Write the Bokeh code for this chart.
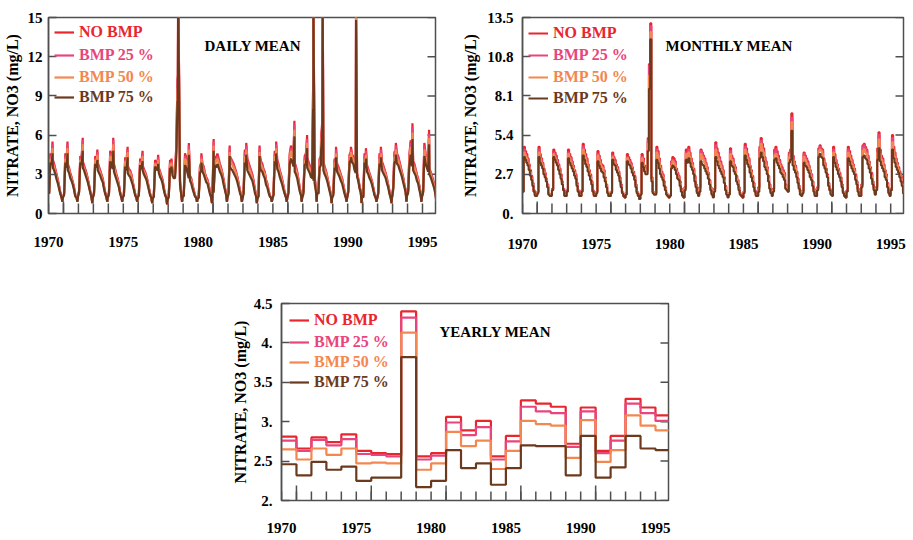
import numpy as np
from bokeh.plotting import figure
from bokeh.models import LinearAxis, FixedTicker, Range1d, Legend, LegendItem, Label, Spacer
from bokeh.layouts import row, column
from bokeh.core.properties import value
from bokeh.embed import file_html
from bokeh.resources import INLINE

# ---------------- data ----------------
years = list(range(1970, 1996))
series_names = ["NO BMP", "BMP 25 %", "BMP 50 %", "BMP 75 %"]
series_colors = ["#e8262e", "#e8457c", "#f3874f", "#6b3a1e"]

x_label_years = [1970, 1975, 1980, 1985, 1990, 1995]
x_long_ticks = [1971, 1976, 1981, 1986, 1991]

daily_yticks = [0, 3, 6, 9, 12, 15]
daily_ylabels = ["0", "3", "6", "9", "12", "15"]
monthly_yticks = [0, 2.7, 5.4, 8.1, 10.8, 13.5]
monthly_ylabels = ["0.", "2.7", "5.4", "8.1", "10.8", "13.5"]
yearly_yticks = [2, 2.5, 3, 3.5, 4, 4.5]
yearly_ylabels = ["2.", "2.5", "3.", "3.5", "4.", "4.5"]

# yearly means (mg/L)
yearly_no_bmp = [2.81, 2.66, 2.80, 2.74, 2.84, 2.63, 2.60, 2.59, 4.40, 2.56, 2.60, 3.06, 2.89,
                 3.01, 2.56, 2.82, 3.27, 3.23, 3.19, 2.72, 3.18, 2.63, 2.82, 3.29, 3.18, 3.08]
yearly_bmp25 = [2.76, 2.63, 2.77, 2.70, 2.78, 2.59, 2.58, 2.56, 4.32, 2.52, 2.57, 2.99, 2.83,
                2.93, 2.52, 2.75, 3.19, 3.13, 3.11, 2.68, 3.13, 2.60, 2.76, 3.23, 3.11, 3.01]
yearly_bmp50 = [2.65, 2.52, 2.66, 2.58, 2.66, 2.47, 2.48, 2.47, 4.13, 2.39, 2.47, 2.87, 2.69,
                2.76, 2.40, 2.63, 3.01, 2.97, 2.95, 2.54, 3.02, 2.49, 2.64, 3.08, 2.95, 2.89]
yearly_bmp75 = [2.46, 2.32, 2.49, 2.39, 2.43, 2.25, 2.29, 2.29, 3.82, 2.17, 2.25, 2.64, 2.41,
                2.47, 2.20, 2.41, 2.70, 2.69, 2.69, 2.32, 2.82, 2.29, 2.42, 2.82, 2.66, 2.64]

# monthly means, tenths of mg/L, one row per year (Jan..Dec)
monthly_no_bmp = [
    "16 46 43 41 38 34 30 26 21 16 13 13", "15 46 41 38 35 31 28 24 20 14 13 13",
    "17 44 42 40 37 34 31 27 22 17 13 12", "16 44 41 39 36 33 30 27 21 16 13 12",
    "16 48 44 41 38 34 30 27 22 16 13 12", "15 43 40 37 34 33 30 25 20 15 12 12",
    "15 42 39 37 34 32 29 25 20 15 12 11", "14 41 39 37 35 32 29 26 20 15 12 10",
    "14 41 38 33 31 31 52 103 131 25 15 14", "14 46 43 38 33 29 27 22 18 14 12 11",
    "13 36 39 38 36 31 28 26 22 17 13 11", "18 44 42 46 42 38 35 31 26 20 15 13",
    "18 44 42 40 38 35 32 28 23 18 14 12", "17 49 45 42 39 36 33 30 25 19 14 12",
    "14 45 40 38 34 32 26 23 18 14 12 11", "15 48 45 41 38 33 30 26 21 16 13 12",
    "18 46 52 48 45 39 36 32 26 20 15 14", "17 44 46 43 40 37 34 32 30 28 20 18",
    "16 42 44 69 40 36 33 29 24 19 15 13", "16 42 40 38 36 33 30 27 22 17 13 12",
    "18 45 47 45 44 38 35 31 27 21 17 14", "13 46 41 37 34 31 28 25 20 15 12 11",
    "16 46 43 40 37 34 31 27 22 17 13 12", "20 47 48 46 44 40 36 32 28 22 18 14",
    "18 45 56 44 40 38 34 30 27 21 16 13", "17 54 46 42 38 35 32 29 26 21 16 14",
]
monthly_bmp25 = [
    "16 44 41 39 37 33 29 25 21 16 13 13", "15 44 39 37 34 30 27 24 20 14 13 13",
    "17 42 40 38 36 33 30 26 22 17 13 12", "16 42 39 38 35 32 29 26 21 16 13 12",
    "16 46 42 39 37 33 29 26 22 16 13 12", "15 41 38 36 33 32 29 24 20 15 12 12",
    "15 40 38 36 33 31 28 24 20 15 12 11", "14 39 37 36 34 31 28 25 20 15 12 10",
    "14 39 37 32 30 30 50 102 129 24 15 14", "14 44 41 37 32 28 26 22 18 14 12 11",
    "13 35 37 36 35 30 27 25 22 17 13 11", "18 42 40 44 40 37 34 30 25 20 15 13",
    "18 43 41 39 37 34 31 28 23 18 14 12", "17 47 43 40 38 35 32 29 25 19 14 12",
    "14 43 38 37 33 31 25 23 18 14 12 11", "15 46 43 39 37 32 29 25 21 16 13 12",
    "18 44 50 46 43 38 35 31 26 20 15 14", "17 42 44 41 38 36 33 31 29 27 20 18",
    "16 41 43 66 39 35 32 28 24 19 15 13", "16 41 39 37 35 32 29 27 22 17 13 12",
    "18 44 46 44 43 37 34 30 26 21 17 14", "13 44 39 36 33 30 27 24 20 15 12 11",
    "16 44 41 38 36 33 30 26 22 17 13 12", "20 46 47 45 43 39 35 31 27 22 18 14",
    "18 43 54 42 38 37 33 29 26 21 16 13", "17 52 44 40 37 34 31 28 25 21 16 14",
]
monthly_bmp50 = [
    "15 42 40 38 35 32 28 24 20 15 13 13", "15 42 38 35 33 29 26 23 19 14 13 13",
    "16 41 39 37 34 32 29 25 21 16 13 12", "15 41 38 36 33 31 28 25 20 15 13 12",
    "15 44 41 38 35 32 28 25 21 15 13 12", "15 40 37 34 32 31 28 24 19 15 12 12",
    "15 39 36 34 32 30 27 24 19 15 12 11", "14 38 36 34 33 30 27 24 19 15 12 10",
    "14 38 35 31 29 29 48 95 125 24 15 14", "14 42 40 35 31 27 25 21 17 14 12 11",
    "13 33 36 35 33 29 26 24 21 16 13 11", "17 41 39 42 39 35 33 29 24 19 15 13",
    "17 41 39 37 35 33 30 26 22 17 14 12", "16 44 41 38 35 33 30 27 23 18 14 12",
    "14 41 37 35 32 30 24 22 17 14 12 11", "15 44 41 38 35 31 28 24 20 15 13 12",
    "17 42 48 44 42 36 33 30 24 19 15 14", "16 40 41 39 36 34 31 29 28 25 19 17",
    "15 39 41 63 37 33 31 27 23 18 15 13", "15 39 37 35 33 31 28 25 21 16 13 12",
    "17 43 44 43 41 36 33 29 26 20 16 14", "13 42 38 34 32 29 26 24 19 15 12 11",
    "15 42 40 37 34 32 29 25 21 16 13 12", "19 43 44 42 41 37 34 30 26 21 17 14",
    "17 42 51 41 37 35 32 28 25 20 15 13", "16 49 43 39 35 33 30 27 24 20 15 14",
]
monthly_bmp75 = [
    "15 39 37 35 33 30 26 23 19 15 12 12", "14 39 35 33 31 27 25 22 18 13 12 12",
    "16 39 37 35 33 30 27 24 20 16 12 12", "15 38 35 33 31 29 26 24 19 15 12 12",
    "15 40 37 34 32 29 26 23 20 15 12 12", "14 36 33 31 29 28 25 22 18 14 12 12",
    "14 37 34 33 30 28 26 22 18 14 12 11", "13 36 34 33 31 28 26 23 18 14 12 10",
    "13 35 32 29 27 27 43 86 120 22 14 13", "13 37 35 31 27 25 23 19 16 13 12 11",
    "12 31 33 32 30 27 24 23 19 15 12 11", "16 37 35 38 35 32 30 27 22 18 14 12",
    "15 36 34 33 31 29 27 24 20 16 13 11", "15 39 36 33 31 29 27 25 21 16 13 11",
    "13 36 33 32 29 27 22 20 16 13 12 11", "14 40 37 34 32 28 25 22 18 15 12 12",
    "15 38 42 39 36 32 30 27 22 17 14 12", "15 37 38 35 33 31 28 27 25 23 17 16",
    "15 35 37 57 33 30 28 25 21 17 13 12", "14 35 33 32 30 28 25 23 19 15 12 12",
    "16 39 41 39 38 33 31 28 25 19 16 13", "12 39 35 32 30 27 25 22 18 14 12 11",
    "15 38 36 33 31 29 27 23 20 15 12 12", "18 39 40 38 37 34 31 28 24 20 16 13",
    "16 37 45 36 33 31 29 25 23 18 14 12", "16 44 38 35 32 30 28 25 22 19 14 14",
]

# extra readings of the daily trace: yearly daily peaks, yearly daily lows, storm spikes
daily_peak_date = [1970.27, 1971.27, 1972.29, 1973.27, 1974.33, 1975.29, 1976.29, 1977.33, 1978.22,
                   1979.38, 1980.22, 1981.04, 1982.11, 1983.22, 1984.11, 1985.22, 1986.44, 1987.29,
                   1988.22, 1989.22, 1990.22, 1991.22, 1992.22, 1993.22, 1994.33, 1995.44]
daily_peak_no_bmp = [5.5, 5.5, 5.8, 4.9, 5.8, 5.1, 4.8, 4.5, 4.2, 5.4, 4.6, 5.7, 5.2,
                     5.4, 5.2, 5.5, 7.1, 6.0, 5.8, 5.1, 5.1, 5.0, 5.1, 5.4, 6.9, 6.4]
daily_peak_bmp25 = [5.3, 5.3, 5.6, 4.7, 5.6, 4.9, 4.6, 4.3, 4.0, 5.2, 4.4, 5.5, 5.0,
                    5.2, 5.0, 5.3, 6.8, 5.7, 5.5, 4.9, 4.9, 4.8, 4.9, 5.2, 6.6, 6.1]
daily_peak_bmp50 = [5.0, 5.0, 5.3, 4.5, 5.3, 4.7, 4.4, 4.1, 3.9, 4.9, 4.2, 5.2, 4.7,
                    4.9, 4.7, 5.0, 6.4, 5.4, 5.2, 4.6, 4.7, 4.5, 4.6, 4.9, 6.2, 5.8]
daily_peak_bmp75 = [4.6, 4.6, 4.8, 4.1, 4.8, 4.3, 4.0, 3.8, 3.6, 4.5, 3.9, 4.8, 4.4,
                    4.5, 4.4, 4.6, 5.9, 5.0, 4.8, 4.3, 4.3, 4.2, 4.3, 4.5, 5.7, 5.3]
daily_low_date = [1970.93, 1971.93, 1972.93, 1973.93, 1974.93, 1975.93, 1976.93, 1977.93, 1978.93,
                  1979.93, 1980.93, 1981.93, 1982.93, 1983.93, 1984.93, 1985.93, 1986.93, 1987.93,
                  1988.93, 1989.93, 1990.93, 1991.93, 1992.93, 1993.93, 1994.93, 1995.93]
daily_low = [0.9, 0.9, 0.8, 0.9, 0.9, 0.9, 0.8, 0.7, 0.9, 0.9, 0.8, 0.9, 0.9,
             0.8, 0.9, 0.9, 0.9, 0.9, 0.8, 0.9, 0.8, 0.9, 0.8, 0.9, 0.9, 0.9]
spike_date = [1978.65, 1978.67, 1987.69, 1987.71, 1988.31, 1988.33, 1990.56]
spike_no_bmp = [10.6, 19.0, 9.9, 17.0, 8.9, 17.0, 15.5]
spike_bmp25 = [10.4, 18.5, 9.7, 16.5, 8.7, 16.5, 15.3]
spike_bmp50 = [9.6, 17.8, 9.0, 16.0, 8.2, 16.0, 15.1]
spike_bmp75 = [8.6, 16.8, 8.0, 15.5, 7.5, 15.5, 14.8]

# ---------------- helpers ----------------
FONT = "Liberation Serif"
FRAME = "#4f4f4f"
X0, X1 = 1970, 1995.87


def tenths(rows):
    return np.array([[int(v) / 10 for v in r.split()] for r in rows]).ravel()


monthly = [tenths(monthly_no_bmp), tenths(monthly_bmp25), tenths(monthly_bmp50), tenths(monthly_bmp75)]
yearly = [yearly_no_bmp, yearly_bmp25, yearly_bmp50, yearly_bmp75]
peaks = [daily_peak_no_bmp, daily_peak_bmp25, daily_peak_bmp50, daily_peak_bmp75]
spikes = [spike_no_bmp, spike_bmp25, spike_bmp50, spike_bmp75]
n_months = len(years) * 12
month_start = years[0] + np.arange(n_months) / 12.0
month_mid = month_start + 1.0 / 24.0


def make_panel(width, height, borders, yr, yticks, ylabels, xstandoff, big_tick, small_tick,
               ylab_standoff, title_standoff):
    p = figure(width=width, height=height, x_range=Range1d(X0, X1), y_range=Range1d(*yr),
               x_axis_type=None, y_axis_type=None, toolbar_location=None, output_backend="svg",
               min_border_left=borders[0], min_border_right=borders[1],
               min_border_top=borders[2], min_border_bottom=borders[3])
    p.outline_line_color = FRAME
    p.outline_line_width = 1.5
    p.border_fill_color = "white"
    p.background_fill_color = "white"

    left = LinearAxis(ticker=FixedTicker(ticks=yticks, minor_ticks=[]),
                      major_label_overrides=dict(zip(yticks, ylabels)),
                      axis_line_color=FRAME, axis_line_width=1.5,
                      major_tick_line_color=FRAME, major_tick_line_width=1.5,
                      major_tick_in=8, major_tick_out=0, minor_tick_in=0, minor_tick_out=0,
                      major_label_standoff=ylab_standoff,
                      major_label_text_font=FONT, major_label_text_font_style="bold",
                      major_label_text_font_size="15px", major_label_text_color="black",
                      axis_label="NITRATE, NO3 (mg/L)", axis_label_standoff=title_standoff,
                      axis_label_text_font=FONT, axis_label_text_font_style="bold",
                      axis_label_text_font_size="16px", axis_label_text_color="black")
    p.add_layout(left, "left")
    xl = LinearAxis(ticker=FixedTicker(ticks=x_label_years, minor_ticks=[]),
                    major_tick_in=0, major_tick_out=0, minor_tick_in=0, minor_tick_out=0,
                    axis_line_color=None, major_label_standoff=xstandoff,
                    major_label_text_font=FONT, major_label_text_font_style="bold",
                    major_label_text_font_size="15px", major_label_text_color="black")
    p.add_layout(xl, "below")

    # inward tick marks on the bottom edge (every year, longer every fifth) and right edge
    tick_style = dict(line_color=FRAME, line_width=1.5, length_units="screen")
    p.ray(x=years, y=[yr[0]] * len(years), length=small_tick, angle=np.pi / 2, **tick_style)
    p.ray(x=x_long_ticks, y=[yr[0]] * len(x_long_ticks), length=big_tick, angle=np.pi / 2, **tick_style)
    p.ray(x=[X1] * len(yticks), y=yticks, length=8, angle=np.pi, **tick_style)
    return p


def add_legend(p, renderers, frame_h, gx, tops):
    for r, name, color, top in zip(renderers, series_names, series_colors, tops):
        lg = Legend(items=[LegendItem(label=value(name), renderers=[r])],
                    location=(gx, frame_h - top - 20),
                    label_text_color=color, label_text_font=FONT, label_text_font_style="bold",
                    label_text_font_size="16px", glyph_width=20, glyph_height=20, label_height=20,
                    label_standoff=5, padding=0, spacing=0, margin=0,
                    border_line_color=None, background_fill_alpha=0)
        p.add_layout(lg)


def add_title(p, text, x, y):
    p.add_layout(Label(x=x, y=y, x_units="screen", y_units="screen", text=text,
                       text_font=FONT, text_font_style="bold", text_font_size="15px",
                       text_color="black", text_baseline="middle", text_align="left"))


ROW1_H = 264

# ---------------- daily panel ----------------
FH1 = 198
p1 = make_panel(459, ROW1_H, (47, 24, 17, ROW1_H - 17 - FH1), (0, 15), daily_yticks, daily_ylabels,
                23, 12, 10, 6, 4)
r1 = []
for i in range(4):
    xs = np.concatenate([month_mid, daily_peak_date, daily_low_date, spike_date])
    ys = np.concatenate([monthly[i], peaks[i], daily_low, spikes[i]])
    order = np.argsort(xs)
    r1.append(p1.line(xs[order], ys[order], line_color=series_colors[i], line_width=2.2))
add_legend(p1, r1, FH1, 6, [7, 30, 52, 72])
add_title(p1, "DAILY MEAN", 156, FH1 - 30)

# ---------------- monthly panel ----------------
FH2 = 196
p2 = make_panel(452, ROW1_H, (58, 8, 17, ROW1_H - 17 - FH2), (0, 13.5), monthly_yticks, monthly_ylabels,
                25, 12, 10, 9, 5)
r2 = []
for i in range(4):
    r2.append(p2.step(month_start, monthly[i], mode="after", line_color=series_colors[i], line_width=2.0))
add_legend(p2, r2, FH2, 6, [6, 28, 50, 71])
add_title(p2, "MONTHLY MEAN", 143, FH2 - 28)

# ---------------- yearly panel ----------------
FH3 = 197
P3_H = 540 - ROW1_H
p3 = make_panel(445, P3_H, (52, 5, 39, P3_H - 39 - FH3), (2, 4.5), yearly_yticks, yearly_ylabels,
                22, 15, 9, 9, 2)
r3 = []
yx = years + [years[-1] + 1]
for i in range(4):
    yy = list(yearly[i]) + [yearly[i][-1]]
    r3.append(p3.step(yx, yy, mode="after", line_color=series_colors[i], line_width=2.2))
add_legend(p3, r3, FH3, 8, [7, 29, 49, 69])
add_title(p3, "YEARLY MEAN", 158, FH3 - 28)

layout = column(row(p1, p2), row(Spacer(width=228, height=P3_H), p3))

open("out.html", "w").write(file_html(layout, INLINE))
